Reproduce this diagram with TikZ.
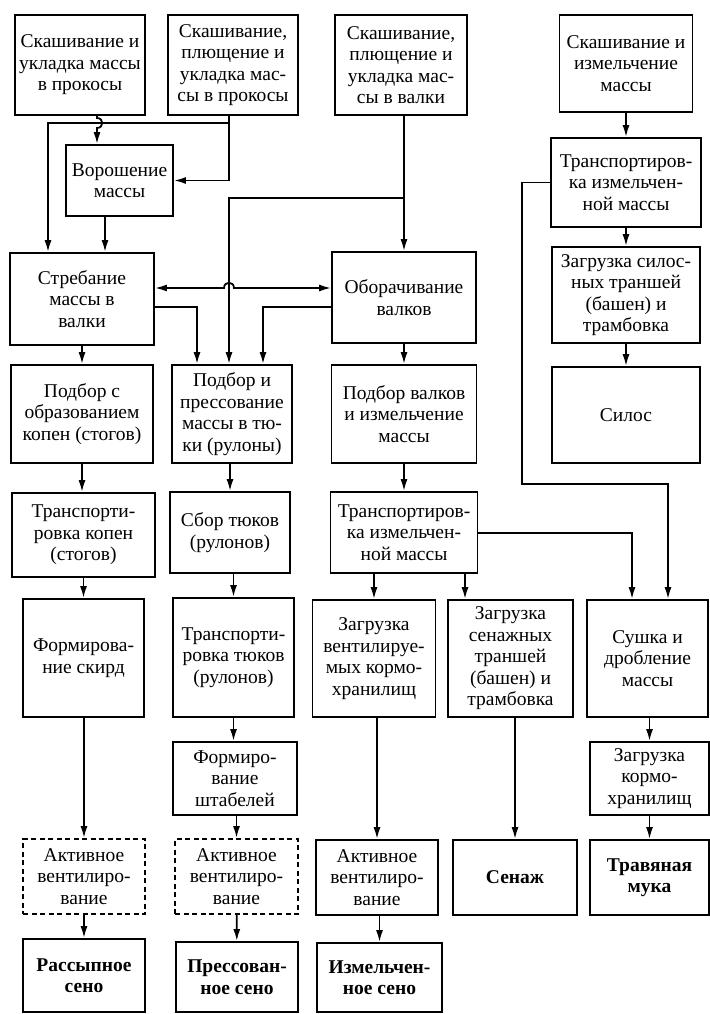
\documentclass[tikz,border=0pt]{standalone}
\usepackage{fontspec}
\setmainfont{Liberation Serif}
\usetikzlibrary{arrows.meta}
\tikzset{
  >={Latex[length=12pt,width=7pt]},
  blk/.style={draw, line width=1.8pt, align=center, inner sep=1pt, font=\fontsize{19.5}{21.5}\selectfont},
  res/.style={blk, font=\fontsize{19.5}{21.5}\selectfont\bfseries},
  opt/.style={blk, dash pattern=on 5pt off 3.5pt},
  arr/.style={->, line width=1.8pt},
  ln/.style={line width=1.8pt}
}
\begin{document}
\begin{tikzpicture}[x=1pt,y=-1pt]
\useasboundingbox (0,0) rectangle (709,1014);
% mowing
\node[blk, minimum width=130pt, minimum height=100pt] (mow1) at (80,65) {Скашивание и\\укладка массы\\в прокосы};
\node[blk, minimum width=130pt, minimum height=100pt] (mow2) at (233,65) {Скашивание,\\плющение и\\укладка мас-\\сы в прокосы};
\node[blk, minimum width=132pt, minimum height=100pt] (mow3) at (401,65) {Скашивание,\\плющение и\\укладка мас-\\сы в валки};
\node[blk, minimum width=133pt, minimum height=97pt] (mow4) at (626,63.5) {Скашивание и\\измельчение\\массы};
\node[blk, minimum width=107pt, minimum height=71pt] (ted) at (119.5,180.5) {Ворошение\\массы};
\node[blk, minimum width=150pt, minimum height=89pt] (trsil) at (626,182.5) {Транспортиров-\\ка измельчен-\\ной массы};
% second stage
\node[blk, minimum width=144pt, minimum height=92pt] (rake) at (82,299) {Стребание\\массы в\\валки};
\node[blk, minimum width=144pt, minimum height=91pt] (turn) at (404,297.5) {Оборачивание\\валков};
\node[blk, minimum width=148pt, minimum height=96pt] (silld) at (626,295) {Загрузка силос-\\ных траншей\\(башен) и\\трамбовка};
\node[blk, minimum width=142pt, minimum height=98pt] (pickst) at (82,414) {Подбор с\\образованием\\копен (стогов)};
\node[blk, minimum width=120pt, minimum height=98pt] (press) at (232,414) {Подбор и\\прессование\\массы в тю-\\ки (рулоны)};
\node[blk, minimum width=145pt, minimum height=98pt] (pickch) at (404,414) {Подбор валков\\и измельчение\\массы};
\node[blk, minimum width=148pt, minimum height=96pt] (silage) at (626,415) {Силос};
% transport
\node[blk, minimum width=143pt, minimum height=84pt] (trst) at (83.5,535) {Транспорти-\\ровка копен\\(стогов)};
\node[blk, minimum width=120pt, minimum height=81pt] (collect) at (230,532.5) {Сбор тюков\\(рулонов)};
\node[blk, minimum width=147pt, minimum height=81pt] (trch) at (404,532.5) {Транспортиров-\\ка измельчен-\\ной массы};
\node[blk, minimum width=121pt, minimum height=118pt] (rick) at (83.5,658) {Формирова-\\ние скирд};
\node[blk, minimum width=121pt, minimum height=119pt] (trbale) at (233.5,657.5) {Транспорти-\\ровка тюков\\(рулонов)};
\node[blk, minimum width=123pt, minimum height=117pt] (ldvent) at (374,658.5) {Загрузка\\вентилируе-\\мых кормо-\\хранилищ};
\node[blk, minimum width=125pt, minimum height=117pt] (ldhay) at (510.5,658.5) {Загрузка\\сенажных\\траншей\\(башен) и\\трамбовка};
\node[blk, minimum width=121pt, minimum height=117pt] (dry) at (647.5,658.5) {Сушка и\\дробление\\массы};
\node[blk, minimum width=124pt, minimum height=73pt] (stack) at (235,778.5) {Формиро-\\вание\\штабелей};
\node[blk, minimum width=119pt, minimum height=73pt] (ldstore) at (649.5,778.5) {Загрузка\\кормо-\\хранилищ};
% ventilation and products
\node[opt, minimum width=122pt, minimum height=75pt] (vent1) at (84,876.5) {Активное\\вентилиро-\\вание};
\node[opt, minimum width=123pt, minimum height=75pt] (vent2) at (236.5,876.5) {Активное\\вентилиро-\\вание};
\node[blk, minimum width=122pt, minimum height=75pt] (vent3) at (377,877.5) {Активное\\вентилиро-\\вание};
\node[res, minimum width=124pt, minimum height=75pt] (haylage) at (515,877.5) {Сенаж};
\node[res, minimum width=119pt, minimum height=75pt] (meal) at (649.5,877.5) {Травяная\\мука};
\node[res, minimum width=122pt, minimum height=73pt] (loose) at (84,975.5) {Рассыпное\\сено};
\node[res, minimum width=122pt, minimum height=70pt] (pressed) at (237,977) {Прессован-\\ное сено};
\node[res, minimum width=125pt, minimum height=69pt] (chopped) at (379.5,977.5) {Измельчен-\\ное сено};
% lanes
\coordinate (hopA) at (97,123);
\coordinate (brB) at (229,123);
\coordinate (lnA) at (48,123);
\coordinate (lnB) at (105,0);
\coordinate (brC) at (404,198);
\coordinate (hopB) at (229,288);
\coordinate (lane1) at (197,307);
\coordinate (lane2) at (263,307);
\coordinate (lane3) at (632,533);
\coordinate (lane4) at (465,0);
\coordinate (lane5) at (522,484);
\coordinate (lane6) at (668,484);
% connectors
\draw[arr] (mow1.south -| hopA) -- (97,118) .. controls (104,118) and (104,128) .. (97,128) -- (ted.north -| hopA);
\draw[arr] (mow2.south -| brB) |- (ted.east);
\draw[arr] (brB) -| (rake.north -| lnA);
\draw[arr] (ted.south -| lnB) -- (rake.north -| lnB);
\draw[arr] (mow3.south -| turn.north) -- (turn.north);
\draw[arr] (brC) -| (press.north -| hopB);
\draw[<->, ln] (rake.east |- hopB) -- (224,288) .. controls (224,281) and (234,281) .. (234,288) -- (turn.west |- hopB);
\draw[arr] (rake.east |- lane1) -| (press.north -| lane1);
\draw[arr] (turn.west |- lane2) -| (press.north -| lane2);
\draw[arr] (mow4) -- (trsil);
\draw[arr] (trsil) -- (silld);
\draw[arr] (silld) -- (silage);
\draw[arr] (rake) -- (pickst);
\draw[arr] (turn) -- (pickch);
\draw[arr] (press.south -| collect.north) -- (collect.north);
\draw[arr] (pickst.south) -- (trst.north -| pickst.south);
\draw[arr] (pickch) -- (trch);
\draw[arr] (trst) -- (rick);
\draw[arr] (collect.south -| trbale.north) -- (trbale.north);
\draw[arr] (trbale.south) -- (stack.north -| trbale.south);
\draw[arr] (trch.south -| ldvent.north) -- (ldvent.north);
\draw[arr] (trch.south -| lane4) -- (ldhay.north -| lane4);
\draw[arr] (trch.east |- lane3) -| (dry.north -| lane3);
\draw[arr] (trsil.west) -| (lane5) -| (dry.north -| lane6);
\draw[arr] (rick.south -| vent1.north) -- (vent1.north);
\draw[arr] (stack.south -| vent2.north) -- (vent2.north);
\draw[arr] (ldvent.south -| vent3.north) -- (vent3.north);
\draw[arr] (ldhay.south -| haylage.north) -- (haylage.north);
\draw[arr] (dry.south -| ldstore.north) -- (ldstore.north);
\draw[arr] (vent1) -- (loose);
\draw[arr] (vent2) -- (pressed);
\draw[arr] (vent3.south -| chopped.north) -- (chopped.north);
\draw[arr] (ldstore) -- (meal);
\end{tikzpicture}
\end{document}
